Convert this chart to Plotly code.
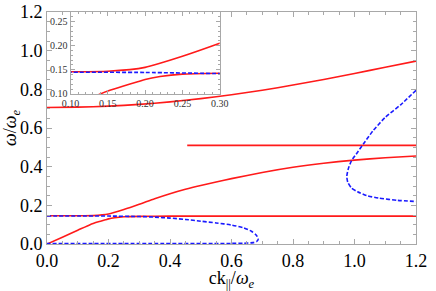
import plotly.graph_objects as go

# ---------------- data ----------------
k_upper = [0, 0.1, 0.2, 0.3, 0.4, 0.5, 0.6, 0.7, 0.8, 0.9, 1.0, 1.1, 1.2]
w_upper = [0.706, 0.708, 0.713, 0.722, 0.735, 0.752, 0.772, 0.795, 0.822, 0.851, 0.882, 0.914, 0.946]

k_flat = [0.456, 1.2]
w_flat = [0.51, 0.51]

k_lower = [0, 0.05, 0.10, 0.14, 0.15, 0.17, 0.19, 0.20, 0.22, 0.25, 0.30, 0.40, 0.60, 0.80, 1.0, 1.2]
w_lower = [0, 0.035, 0.071, 0.100, 0.106, 0.116, 0.125, 0.130, 0.136, 0.141, 0.143, 0.144, 0.144, 0.144, 0.144, 0.144]

k_mid = [0, 0.05, 0.10, 0.15, 0.20, 0.25, 0.30, 0.35, 0.40, 0.45, 0.50, 0.55, 0.60, 0.70, 0.80, 0.90, 1.0, 1.1, 1.2]
w_mid = [0.146, 0.146, 0.146, 0.147, 0.155, 0.178, 0.205, 0.234, 0.260, 0.283, 0.303, 0.321, 0.338, 0.370, 0.397, 0.418, 0.434, 0.446, 0.455]

k_loop = [0, 0.1, 0.2, 0.3, 0.35, 0.4, 0.45, 0.5, 0.55, 0.6, 0.64, 0.665, 0.68, 0.687, 0.682, 0.67, 0.64, 0.6, 0.3, 0.0]
w_loop = [0.145, 0.145, 0.1445, 0.142, 0.139, 0.134, 0.127, 0.118, 0.109, 0.098, 0.083, 0.066, 0.047, 0.028, 0.013, 0.007, 0.004, 0.003, 0.002, 0.002]

k_c = [1.2, 1.15, 1.1, 1.06, 1.03, 1.01, 0.99, 0.98, 0.975, 0.978, 0.99, 1.01, 1.04, 1.08, 1.14, 1.2]
w_c = [0.795, 0.72, 0.655, 0.585, 0.52, 0.475, 0.43, 0.39, 0.35, 0.32, 0.29, 0.27, 0.25, 0.237, 0.226, 0.22]

RED = "#ff1a1a"
BLUE = "#1a1aff"
FRAME = "#a8a8a8"
FONT = "Liberation Serif"

fig = go.Figure()


def add(x, y, color, dash, xa="x", ya="y"):
    fig.add_trace(go.Scatter(
        x=x, y=y, mode="lines", xaxis=xa, yaxis=ya, showlegend=False,
        hoverinfo="skip",
        line=dict(color=color, width=1.6, dash=dash, shape="spline", smoothing=0.6),
    ))


# main plot
add(k_upper, w_upper, RED, "solid")
add(k_flat, w_flat, RED, "solid")
add(k_lower, w_lower, RED, "solid")
add(k_mid, w_mid, RED, "solid")
add(k_loop, w_loop, BLUE, "4px,2px")
add(k_c, w_c, BLUE, "4px,2px")

# inset
add(k_lower, w_lower, RED, "solid", "x2", "y2")
add(k_mid, w_mid, RED, "solid", "x2", "y2")
add(k_loop, w_loop, BLUE, "4px,2px", "x2", "y2")

common = dict(
    showline=True, linecolor=FRAME, linewidth=1, mirror="ticks",
    ticks="inside", tickcolor=FRAME, showgrid=False, zeroline=False,
)

fig.update_layout(
    width=436, height=291, autosize=False,
    margin=dict(l=47, r=13, t=11, b=47),
    paper_bgcolor="white", plot_bgcolor="white",
    font=dict(family=FONT),
    xaxis=dict(
        **common, range=[0, 1.2], dtick=0.2, tick0=0, tickformat=".1f", ticklen=5,
        minor=dict(ticks="inside", ticklen=3, dtick=0.05, tickcolor=FRAME),
        tickfont=dict(family=FONT, size=18, color="black"),
        title=dict(text="ck<sub>||</sub>/<i>ω</i><sub><i>e</i></sub>",
                   font=dict(family=FONT, size=18, color="black"), standoff=8),
        automargin=False,
    ),
    yaxis=dict(
        **common, range=[0, 1.2], dtick=0.2, tick0=0, tickformat=".1f", ticklen=5,
        minor=dict(ticks="inside", ticklen=3, dtick=0.05, tickcolor=FRAME),
        tickfont=dict(family=FONT, size=18, color="black"),
        title=dict(text="<i>ω</i>/<i>ω</i><sub><i>e</i></sub>",
                   font=dict(family=FONT, size=18, color="black"), standoff=2),
        automargin=False,
    ),
    xaxis2=dict(
        **common, domain=[0.0638, 0.468], anchor="y2", range=[0.1, 0.3],
        dtick=0.05, tick0=0.1, tickformat=".2f", ticklen=4,
        minor=dict(ticks="inside", ticklen=2, dtick=0.01, tickcolor=FRAME),
        tickfont=dict(family=FONT, size=10, color="#333333"),
    ),
    yaxis2=dict(
        **common, domain=[0.647, 1.0], anchor="x2", range=[0.1, 0.27],
        dtick=0.05, tick0=0.1, tickformat=".2f", ticklen=4,
        minor=dict(ticks="inside", ticklen=2, dtick=0.01, tickcolor=FRAME),
        tickfont=dict(family=FONT, size=10, color="#333333"),
    ),
)

fig.write_html("out.html", config={"displayModeBar": False},
               post_script="document.body.style.margin='0';")
